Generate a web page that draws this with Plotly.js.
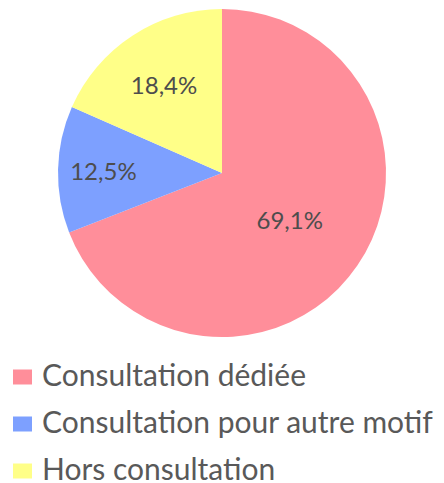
<!DOCTYPE html>
<html>
<head>
<meta charset="utf-8">
<script src="https://cdn.plot.ly/plotly-3.0.1.min.js"></script>
<style>html,body{margin:0;padding:0;background:#fff;}#chart{width:444px;height:483px;}</style>
</head>
<body>
<div id="chart"></div>
<script>
var categories = ["Consultation dédiée", "Consultation pour autre motif", "Hors consultation"];
var values = [69.1, 12.5, 18.4];
var colors = ["#FF8E9A", "#7DA0FF", "#FFFF88"];

var W = 444, H = 483;
var cx = 222, cy = 173, R = 164;

var trace = {
  type: "pie",
  labels: categories,
  values: values,
  sort: false,
  direction: "clockwise",
  rotation: 0,
  marker: {colors: colors, line: {width: 0}},
  texttemplate: "%{value:.1f}%",
  textposition: "inside",
  insidetextorientation: "horizontal",
  textfont: {family: "Lato, sans-serif", size: 24, color: "#4D4D4D"},
  hoverinfo: "label+value",
  domain: {x: [(cx - R) / W, (cx + R) / W], y: [1 - (cy + R) / H, 1 - (cy - R) / H]},
  showlegend: false
};

var rowTop = 376, rowGap = 47;
var shapes = [], annotations = [];
categories.forEach(function (c, i) {
  var yc = rowTop + i * rowGap;
  shapes.push({type: "rect", xref: "paper", yref: "paper",
    x0: 13 / W, x1: 32 / W, y0: 1 - (yc + 1 + 7.5) / H, y1: 1 - (yc + 1 - 7.5) / H,
    fillcolor: colors[i], line: {width: 0}});
  annotations.push({xref: "paper", yref: "paper", x: 40 / W, y: 1 - (yc - 2) / H,
    xanchor: "left", yanchor: "middle", showarrow: false, text: c,
    font: {family: "Lato, sans-serif", size: 30, color: "#595959"}});
});

var layout = {
  width: W, height: H,
  margin: {l: 0, r: 0, t: 0, b: 0},
  paper_bgcolor: "#fff",
  separators: ", ",
  showlegend: false,
  shapes: shapes,
  annotations: annotations
};

Plotly.newPlot("chart", [trace], layout, {displayModeBar: false, staticPlot: true});
</script>
</body>
</html>
